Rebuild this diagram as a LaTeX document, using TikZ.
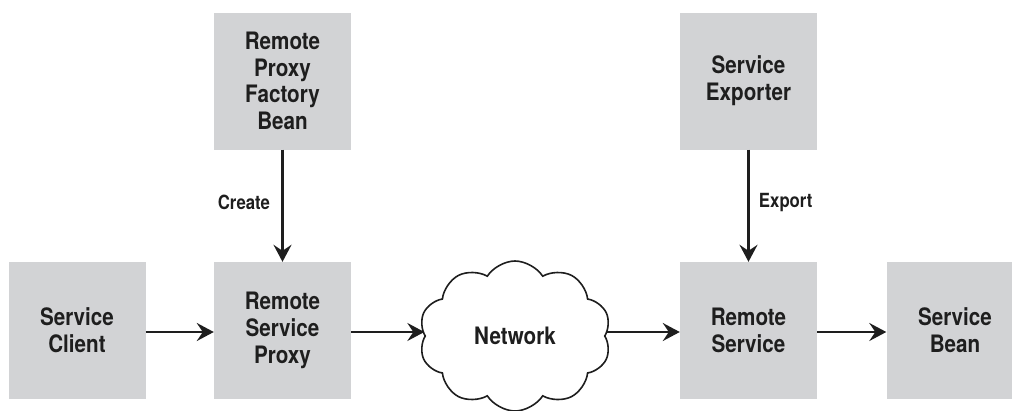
\documentclass[tikz,border=0pt]{standalone}
\usepackage{fontspec}
\setmainfont{TeX Gyre Heros}[FakeStretch=0.86,BoldFont={* Bold}]
\usetikzlibrary{arrows.meta,shapes.symbols}
\definecolor{boxgray}{RGB}{210,211,213}
\definecolor{inkc}{RGB}{30,30,30}
\tikzset{
  blk/.style={fill=boxgray,draw=none,minimum width=137pt,minimum height=137pt,inner sep=0pt,align=center,font=\fontsize{24}{26.7}\selectfont\bfseries,text=inkc},
  conn/.style={draw=inkc,line width=2.3pt,-{Stealth[length=17pt,width=18pt,inset=6pt]}},
  lbl/.style={font=\fontsize{19.5}{22}\selectfont\bfseries,text=inkc},
}
\begin{document}
\begin{tikzpicture}[x=1pt,y=-1pt]
\useasboundingbox (0,0) rectangle (1012,410);
\begin{scope}
\clip (0,0) rectangle (1012,410);
\node[blk] (rpfb) at (282.5,81) {Remote\\Proxy\\Factory\\Bean};
\node[blk] (exp) at (748.5,81) {Service\\Exporter};
\node[blk] (cli) at (77,330.5) {Service\\Client};
\node[blk] (rsp) at (282.5,330.5) {Remote\\Service\\Proxy};
\node[blk] (rs) at (748.5,330.5) {Remote\\Service};
\node[blk] (bean) at (955,330.5) {Service\\Bean};
\node[cloud,draw=inkc,line width=1.6pt,fill=white,cloud puffs=10,cloud puff arc=115,aspect=1.35,minimum width=192pt,minimum height=150pt,inner sep=0pt,font=\fontsize{24}{26.7}\selectfont\bfseries,text=inkc] (net) at (515,336) {Network};
\end{scope}
\draw[conn] (rpfb) -- node[lbl,left=8pt,yshift=3pt] {Create} (rsp);
\draw[conn] (exp) -- node[lbl,right=6pt,yshift=3pt] {Export} (rs);
\draw[conn] (cli.east |- 0,332) -- (rsp.west |- 0,332);
\draw[conn] (rsp.east |- 0,332) -- (net.west |- 0,332);
\draw[conn] (net.east |- 0,332) -- (rs.west |- 0,332);
\draw[conn] (rs.east |- 0,332) -- (bean.west |- 0,332);
\end{tikzpicture}
\end{document}
